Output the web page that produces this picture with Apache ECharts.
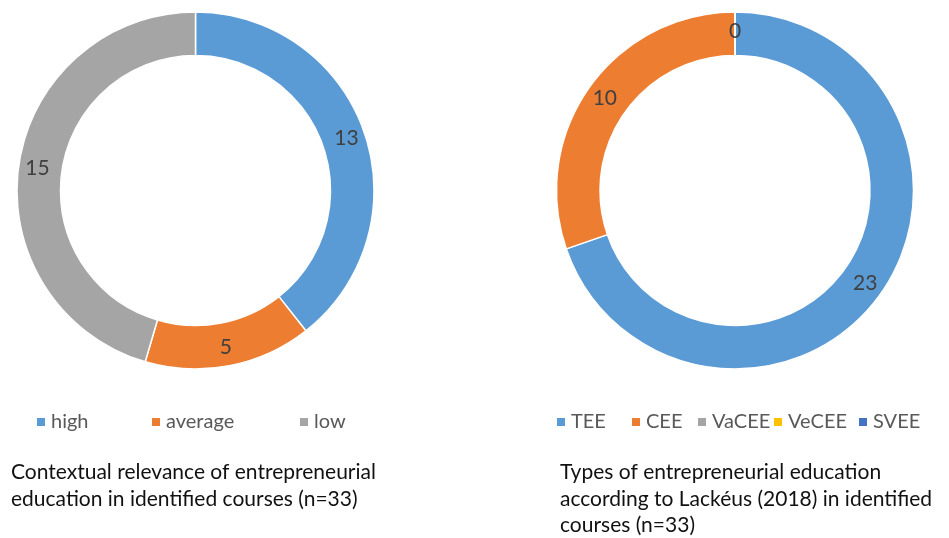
<!DOCTYPE html>
<html>
<head>
<meta charset="utf-8">
<script src="https://cdn.jsdelivr.net/npm/echarts@6/dist/echarts.min.js"></script>
<style>
html,body{margin:0;padding:0;background:#fff;}
#main{width:949px;height:538px;}
</style>
</head>
<body>
<div id="main"></div>
<script>
// Data
var relevanceCategories = ['high', 'average', 'low'];
var relevanceValues = [13, 5, 15];
var typeCategories = ['TEE', 'CEE', 'VaCEE', 'VeCEE', 'SVEE'];
var typeValues = [23, 10, 0, 0, 0];
var relevanceTitle = 'Contextual relevance of entrepreneurial\neducation in identified courses (n=33)';
var typeTitle = 'Types of entrepreneurial education\naccording to Lack\u00e9us (2018) in identified\ncourses (n=33)';

// Styles / layout
var colorsLeft = ['#5B9BD5', '#ED7D31', '#A5A5A5'];
var colorsRight = ['#5B9BD5', '#ED7D31', '#A5A5A5', '#FFC000', '#4472C4'];
var FONT = 'Lato, "Open Sans", sans-serif';
var legendLeftPos = [35, 150, 298];
var legendRightPos = [555, 630, 696, 772, 857];

function toData(cats, vals, colors) {
  return cats.map(function (c, i) {
    return { name: c, value: vals[i], itemStyle: { color: colors[i] } };
  });
}

function pieSeries(name, center, data) {
  return {
    type: 'pie',
    name: name,
    center: center,
    radius: [135, 178.5],
    startAngle: 90,
    clockwise: true,
    avoidLabelOverlap: false,
    stillShowZeroSum: true,
    itemStyle: { borderColor: '#ffffff', borderWidth: 1.5 },
    label: {
      show: true,
      position: 'inside',
      formatter: '{c}',
      color: '#404040',
      fontSize: 21,
      fontFamily: FONT
    },
    labelLine: { show: false },
    emphasis: { disabled: true },
    data: data
  };
}

var legends = [];
relevanceCategories.forEach(function (c, i) {
  legends.push({ data: [c], left: legendLeftPos[i], top: 412 });
});
typeCategories.forEach(function (c, i) {
  legends.push({ data: [c], left: legendRightPos[i], top: 412 });
});
legends = legends.map(function (l) {
  l.icon = 'rect';
  l.itemWidth = 10;
  l.itemHeight = 10;
  l.padding = 0;
  l.selectedMode = false;
  l.textStyle = { color: '#595959', fontSize: 20, fontFamily: FONT };
  return l;
});

var chart = echarts.init(document.getElementById('main'), null, { renderer: 'canvas' });
chart.setOption({
  animation: false,
  backgroundColor: '#ffffff',
  title: [
    { text: relevanceTitle, left: 11, top: 459, padding: 0,
      textStyle: { color: '#111111', fontSize: 21, fontWeight: 'normal', fontFamily: FONT, lineHeight: 26.5 } },
    { text: typeTitle, left: 560, top: 459, padding: 0,
      textStyle: { color: '#111111', fontSize: 21, fontWeight: 'normal', fontFamily: FONT, lineHeight: 26.5 } }
  ],
  legend: legends,
  series: [
    pieSeries('relevance', [195.5, 190.5], toData(relevanceCategories, relevanceValues, colorsLeft)),
    pieSeries('types', [735, 190.5], toData(typeCategories, typeValues, colorsRight))
  ]
});
</script>
</body>
</html>
